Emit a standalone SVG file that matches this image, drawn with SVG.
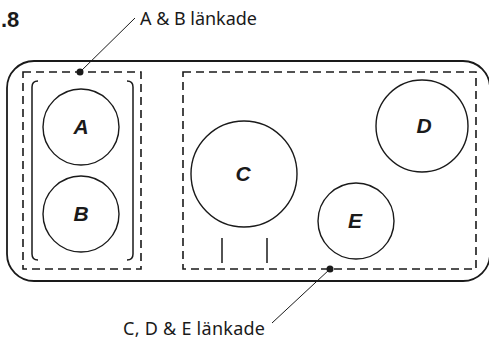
<svg xmlns="http://www.w3.org/2000/svg" width="489" height="341" viewBox="0 0 489 341">
<style>
.outer{fill:none;stroke:#1a1a1a;stroke-width:1.8}
.dash{fill:none;stroke:#1a1a1a;stroke-width:1.6;stroke-dasharray:8 5}
.solid{fill:none;stroke:#1a1a1a;stroke-width:1.5}
.circ{fill:none;stroke:#1a1a1a;stroke-width:1.4}
.lbl{font-family:"Liberation Sans",Arial,sans-serif;font-weight:bold;font-style:italic;font-size:21px;fill:#1a1a1a;text-anchor:middle}
.cap{font-family:"Noto Sans","Open Sans",sans-serif;font-size:18px;fill:#1a1a1a}
.lead{stroke:#1a1a1a;stroke-width:1}
</style>
<rect fill="#fff" x="0" y="0" width="489" height="341"/>
<text x="1" y="27" font-family="Liberation Sans, Arial, sans-serif" font-weight="bold" font-size="22" fill="#1a1a1a">.8</text>
<rect class="outer" x="7" y="61" width="483" height="220" rx="27" ry="27"/>
<g id="group-ab">
<path class="dash" d="M23,72 H141 V269 H23 Z"/>
<path class="solid" d="M38,81 Q32,81 32,87 V254 Q32,260 38,260"/>
<path class="solid" d="M127,81 Q133,81 133,87 V254 Q133,260 127,260"/>
</g>
<g id="group-cde">
<path class="dash" d="M183,72 H476 V269 H183 Z"/>
<line class="solid" x1="222" y1="238" x2="222" y2="263"/>
<line class="solid" x1="267" y1="238" x2="267" y2="263"/>
</g>
<g id="node-A"><circle class="circ" cx="81" cy="127" r="38"/><text class="lbl" x="81" y="134">A</text></g>
<g id="node-B"><circle class="circ" cx="81" cy="214" r="38"/><text class="lbl" x="81" y="221">B</text></g>
<g id="node-C"><circle class="circ" cx="244" cy="174" r="53"/><text class="lbl" x="243" y="181">C</text></g>
<g id="node-D"><circle class="circ" cx="422" cy="126" r="46"/><text class="lbl" x="424" y="133">D</text></g>
<g id="node-E"><circle class="circ" cx="356" cy="221" r="38"/><text class="lbl" x="355" y="228">E</text></g>
<g id="connectors">
<line class="lead" x1="80" y1="72" x2="135" y2="18"/>
<circle cx="80" cy="72" r="3.5" fill="#1a1a1a"/>
<line class="lead" x1="330" y1="269" x2="272" y2="323"/>
<circle cx="330" cy="269" r="3.5" fill="#1a1a1a"/>
</g>
<text class="cap" x="140" y="25" textLength="117">A &amp; B länkade</text>
<text class="cap" x="123" y="335" textLength="142">C, D &amp; E länkade</text>
</svg>
